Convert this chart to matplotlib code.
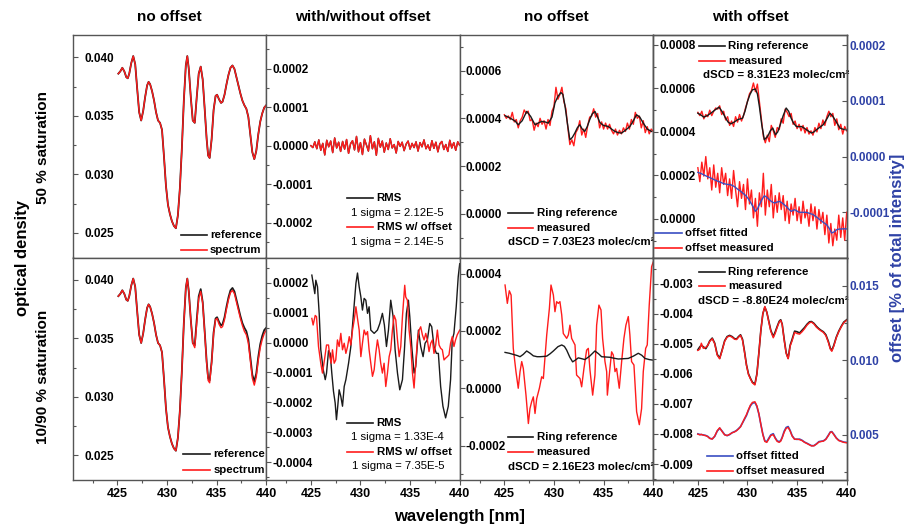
import numpy as np
import matplotlib
matplotlib.use('Agg')
import matplotlib.pyplot as plt
from matplotlib.ticker import MultipleLocator, FuncFormatter

plt.rcParams['font.family'] = ['Liberation Sans', 'DejaVu Sans']
plt.rcParams['font.weight'] = 'bold'

# ---------------- DATA ----------------
col_titles = ['no offset', 'with/without offset', 'no offset', 'with offset']
row_titles = ['50 % saturation', '10/90 % saturation']

wl_grid = [425.0, 425.2, 425.4, 425.6, 425.8, 426.0, 426.2, 426.4, 426.6, 426.8,
           427.0, 427.2, 427.4, 427.6, 427.8, 428.0, 428.2, 428.4, 428.6, 428.8,
           429.0, 429.2, 429.4, 429.6, 429.8, 430.0, 430.2, 430.4, 430.6, 430.8,
           431.0, 431.2, 431.4, 431.6, 431.8, 432.0, 432.2, 432.4, 432.6, 432.8,
           433.0, 433.2, 433.4, 433.6, 433.8, 434.0, 434.2, 434.4, 434.6, 434.8,
           435.0, 435.2, 435.4, 435.6, 435.8, 436.0, 436.2, 436.4, 436.6, 436.8,
           437.0, 437.2, 437.4, 437.6, 437.8, 438.0, 438.2, 438.4, 438.6, 438.8,
           439.0, 439.2, 439.4, 439.6, 439.8, 440.0]

# column 1: optical density (x1e-3)
wl_od = [425.1, 425.3, 425.5, 425.7, 425.9, 426.05, 426.2, 426.4, 426.6, 426.8,
         427.0, 427.2, 427.4, 427.6, 427.8, 428.0, 428.15, 428.3, 428.5, 428.7,
         428.9, 429.1, 429.3, 429.5, 429.7, 429.9, 430.1, 430.3, 430.5, 430.7,
         430.9, 431.1, 431.3, 431.5, 431.7, 431.9, 432.05, 432.2, 432.4, 432.6,
         432.8, 433.0, 433.2, 433.4, 433.6, 433.8, 434.0, 434.15, 434.3, 434.5,
         434.7, 434.9, 435.05, 435.25, 435.45, 435.6, 435.8, 436.0, 436.2, 436.4,
         436.6, 436.8, 437.0, 437.2, 437.4, 437.6, 437.8, 438.0, 438.2, 438.4,
         438.6, 438.8, 439.0, 439.2, 439.4, 439.6, 439.8, 440.0]
od_reference_e3 = [38.6, 38.8, 39.1, 38.8, 38.3, 38.2, 38.6, 39.5, 40.1, 39.4,
                   37.3, 35.3, 34.6, 35.4, 36.6, 37.6, 37.9, 37.7, 37.1, 36.3,
                   35.3, 34.6, 34.4, 33.8, 31.5, 29.0, 27.4, 26.6, 26.0, 25.6,
                   25.4, 26.5, 28.8, 32.2, 36.3, 39.3, 40.1, 39.0, 36.6, 34.6,
                   34.4, 36.6, 38.6, 39.2, 38.1, 35.6, 33.0, 31.6, 31.4, 33.0,
                   35.5, 36.7, 36.8, 36.4, 36.1, 36.2, 36.8, 37.7, 38.5, 39.1,
                   39.3, 39.0, 38.3, 37.6, 36.9, 36.3, 35.9, 35.6, 34.9, 33.4,
                   31.9, 31.3, 32.0, 33.4, 34.5, 35.2, 35.7, 35.9]
od_spectrum_top_e3 = od_reference_e3
od_spectrum_bottom_e3 = [38.6, 38.8, 39.1, 38.8, 38.3, 38.2, 38.6, 39.5, 40.1, 39.4,
                         37.3, 35.3, 34.6, 35.4, 36.6, 37.6, 37.9, 37.7, 37.1, 36.3,
                         35.3, 34.6, 34.4, 33.8, 31.5, 29.0, 27.4, 26.6, 26.0, 25.6,
                         25.4, 26.5, 28.8, 32.2, 36.3, 39.3, 40.1, 39.0, 36.6, 34.6,
                         34.2, 36.3, 38.4, 39.0, 38.0, 35.5, 32.9, 31.4, 31.2, 32.9,
                         35.4, 36.6, 36.7, 36.2, 35.9, 36.0, 36.6, 37.5, 38.3, 38.9,
                         39.1, 38.8, 38.1, 37.4, 36.7, 36.1, 35.6, 35.3, 34.6, 33.1,
                         31.6, 31.0, 31.7, 33.1, 34.2, 34.9, 35.4, 35.7]

# column 2 top: residuals (x1e-5)
rms_top_e5 = [0.0, -0.5, 1.0, -0.8, 1.5, -1.2, 0.6, -2.4, 1.4, -0.3,
              1.2, -1.8, 2.0, -0.6, 0.9, -1.5, 1.1, -0.9, 1.6, -2.0,
              0.5, 1.3, -1.1, 2.4, -1.6, 0.8, -2.3, 1.7, 0.2, -1.4,
              2.6, -0.8, 1.0, -2.5, 1.9, -0.4, 1.2, -1.7, 0.7, -1.0,
              1.8, -0.6, 0.3, -1.9, 1.1, -0.2, 0.9, -1.3, 0.4, 1.2,
              -0.9, 0.6, -0.5, 1.0, -1.4, 0.8, -0.3, 1.5, -0.8, 0.2,
              -1.2, 1.3, -0.7, 0.9, -1.6, 0.5, 1.1, -1.0, 0.3, -1.5,
              1.4, -0.6, 0.8, -1.2, 1.0, 0.1]
rms_offset_top_e5 = rms_top_e5

# column 2 bottom: residuals (x1e-4)
wl_rms_bottom = [425.1, 425.4, 425.5, 425.67, 425.84, 426.0, 426.25, 426.45, 426.58, 426.78,
                 426.95, 427.11, 427.28, 427.45, 427.58, 427.71, 427.85, 428.02, 428.19, 428.36,
                 428.53, 428.8, 429.03, 429.27, 429.54, 429.7, 429.87, 430.04, 430.2, 430.37,
                 430.54, 430.71, 430.87, 431.04, 431.38, 431.71, 431.95, 432.21, 432.41, 432.62,
                 432.82, 433.05, 433.29, 433.49, 433.73, 433.96, 434.23, 434.43, 434.63, 434.83,
                 434.97, 435.17, 435.4, 435.57, 435.84, 436.07, 436.31, 436.51, 436.74, 436.98,
                 437.18, 437.41, 437.65, 437.85, 438.08, 438.31, 438.58, 438.85, 439.08, 439.25,
                 439.42, 439.65, 439.85, 440.0]
rms_bottom_e4 = [2.26, 1.64, 2.09, 1.87, 0.98, -0.24, -0.91, -1.24, -1.02, -0.27,
                 -0.36, -1.02, -1.63, -2.02, -2.58, -2.13, -1.58, -1.80, -2.13, -1.47,
                 -1.24, -0.69, -0.13, 0.87, 1.98, 2.33, 1.87, 1.53, 1.09, 1.48,
                 1.42, 0.98, 1.20, 0.42, 0.31, 0.42, 0.64, 0.98, 0.59, -0.13,
                 0.42, 1.42, 0.87, -0.24, -1.02, -1.58, -1.24, -0.24, 0.98, 1.42,
                 0.87, -0.13, -1.02, -0.80, 0.42, -0.13, -0.47, -0.02, 0.09, 0.64,
                 0.53, -0.13, -0.36, -0.36, -1.47, -2.13, -2.52, -2.13, -1.24, 0.09,
                 0.31, 1.20, 2.20, 2.64]
wl_rms_offset_bottom = [425.1, 425.23, 425.44, 425.57, 425.77, 426.0, 426.17, 426.37, 426.58, 426.78,
                        426.91, 427.05, 427.18, 427.35, 427.51, 427.68, 427.85, 428.02, 428.19, 428.36,
                        428.53, 428.7, 428.87, 429.03, 429.2, 429.37, 429.54, 429.7, 429.87, 430.04,
                        430.2, 430.37, 430.54, 430.71, 430.87, 431.04, 431.21, 431.38, 431.54, 431.71,
                        431.88, 432.04, 432.21, 432.38, 432.55, 432.72, 432.89, 433.05, 433.22, 433.39,
                        433.56, 433.73, 433.9, 434.06, 434.23, 434.46, 434.56, 434.73, 434.9, 435.07,
                        435.24, 435.4, 435.57, 435.74, 435.91, 436.07, 436.24, 436.41, 436.58, 436.74,
                        436.91, 437.08, 437.25, 437.41, 437.58, 437.75, 437.92, 438.08, 438.25, 438.42,
                        438.58, 438.75, 438.92, 439.08, 439.25, 439.42, 439.58, 439.75, 440.0]
rms_offset_bottom_e4 = [0.81, 0.59, 0.91, 0.87, -0.13, -0.69, -1.02, -0.58, -0.08, -0.08,
                        -0.47, -0.69, -0.24, -0.69, -0.58, 0.09, -0.13, 0.31, -0.24, -0.02,
                        -0.36, -0.13, 0.20, -0.08, 0.42, 0.76, 1.20, 0.81, 0.42, -0.47,
                        -0.02, 0.42, 0.26, 0.37, -0.24, -0.69, -1.13, -0.91, -0.36, 0.09,
                        -0.24, -0.69, -1.02, -0.69, -1.47, -1.02, -0.47, -0.24, 0.42, 0.91,
                        0.76, 0.09, -0.47, -0.13, 0.87, 1.92, 1.53, 1.42, 0.42, -0.13,
                        -1.02, -1.52, -0.69, 0.09, 0.42, 0.53, 0.26, 0.09, 0.31, 0.09,
                        -0.30, -0.02, 0.09, -0.36, -0.08, 0.42, -0.08, -0.19, -0.24, -0.58,
                        -0.52, -0.47, -0.41, -0.02, 0.20, -0.13, 0.09, 0.26, 0.42]

# column 3 top: Ring (x1e-4)
wl_ring3_top = [425.07, 425.4, 425.74, 426.1, 426.4, 426.8, 427.25, 427.65, 428.09, 428.4,
                428.76, 429.1, 429.43, 429.8, 430.1, 430.4, 430.7, 430.9, 431.1, 431.35,
                431.6, 431.85, 432.1, 432.35, 432.6, 432.85, 433.1, 433.35, 433.6, 433.85,
                434.13, 434.4, 434.63, 435.0, 435.47, 435.8, 436.14, 436.5, 436.8, 437.2,
                437.65, 438.0, 438.32, 438.65, 439.0, 439.4, 439.83]
ring3_top_e4 = [4.11, 4.05, 3.97, 3.88, 3.73, 3.90, 4.29, 4.08, 3.73, 3.80,
                3.87, 3.85, 3.80, 4.05, 4.65, 4.92, 5.08, 5.00, 4.55, 3.80,
                3.10, 3.20, 3.38, 3.60, 3.73, 3.55, 3.45, 3.65, 3.94, 4.18,
                4.29, 4.05, 3.82, 3.70, 3.66, 3.55, 3.45, 3.40, 3.38, 3.50,
                3.66, 3.90, 4.15, 4.05, 3.80, 3.55, 3.45]
measured3_top_e4 = [4.15, 4.00, 4.10, 3.95, 4.25, 3.85, 3.95, 3.60, 3.90, 4.05,
                    4.35, 4.20, 4.30, 3.90, 3.95, 3.50, 3.80, 3.65, 4.00, 3.75,
                    3.90, 3.55, 3.95, 3.70, 4.30, 4.50, 5.30, 4.80, 5.00, 5.30,
                    4.70, 4.40, 3.60, 2.90, 3.10, 2.85, 3.40, 3.55, 3.90, 3.30,
                    3.55, 3.20, 3.70, 4.05, 4.10, 4.40, 4.05, 4.20, 3.60, 3.85,
                    3.55, 3.80, 3.55, 3.75, 3.50, 3.35, 3.55, 3.30, 3.50, 3.35,
                    3.60, 3.45, 3.80, 3.55, 3.95, 3.75, 4.25, 4.00, 4.10, 3.60,
                    3.90, 3.40, 3.65, 3.35, 3.55, 3.45]

# column 3 bottom (x1e-4)
wl_ring3_bottom = [425.07, 425.5, 425.9, 426.3, 426.58, 426.9, 427.25, 427.6, 427.92, 428.3,
                   428.6, 429.0, 429.27, 429.6, 429.94, 430.4, 430.78, 431.05, 431.28, 431.6,
                   431.88, 432.15, 432.45, 432.8, 433.12, 433.6, 434.13, 434.5, 434.8, 435.2,
                   435.64, 436.0, 436.48, 437.0, 437.49, 438.0, 438.5, 438.85, 439.17, 439.6,
                   440.0]
ring3_bottom_e4 = [1.25, 1.22, 1.18, 1.14, 1.10, 1.18, 1.30, 1.22, 1.13, 1.10,
                   1.10, 1.11, 1.12, 1.20, 1.30, 1.45, 1.51, 1.46, 1.33, 1.08,
                   0.92, 0.98, 1.06, 1.03, 1.00, 1.12, 1.30, 1.20, 1.10, 1.09,
                   1.08, 1.05, 1.02, 1.03, 1.04, 1.12, 1.22, 1.15, 1.04, 1.00,
                   0.98]
wl_meas3_bottom = [425.07, 425.3, 425.5, 425.68, 425.9, 426.17, 426.4, 426.58, 426.75, 426.91,
                   427.18, 427.42, 427.58, 427.75, 427.92, 428.09, 428.26, 428.53, 428.76, 428.93,
                   429.27, 429.54, 429.7, 429.94, 430.1, 430.27, 430.44, 430.6, 430.78, 430.94,
                   431.28, 431.45, 431.61, 431.78, 432.12, 432.28, 432.62, 432.79, 433.02, 433.29,
                   433.46, 433.63, 433.9, 434.13, 434.3, 434.53, 434.74, 434.9, 435.14, 435.31,
                   435.38, 435.64, 435.81, 435.98, 436.15, 436.31, 436.58, 436.82, 437.05, 437.25,
                   437.49, 437.65, 437.82, 438.06, 438.33, 438.6, 438.83, 439.0, 439.24, 439.4,
                   439.6, 439.84, 440.0]
meas3_bottom_e4 = [3.60, 2.96, 3.40, 3.25, 1.39, 0.58, 0.0, 0.58, 0.93, 0.69,
                   -0.24, -1.23, -0.71, -0.47, -0.30, -0.88, -0.36, 0.0, 0.40, 0.34,
                   1.86, 2.79, 3.60, 3.25, 2.67, 3.02, 2.96, 3.02, 2.56, 1.91,
                   1.74, 1.86, 2.20, 1.74, 1.51, 0.46, 0.34, 0.05, 0.69, 1.33,
                   1.39, 0.63, -0.24, 0.46, 2.20, 2.90, 2.73, 1.74, 0.93, 0.58,
                   -0.24, 0.69, 1.27, 1.16, 0.58, 0.69, 0.0, 0.93, 1.74, 2.20,
                   2.50, 1.86, 0.93, 0.81, -0.82, -1.27, -0.71, 0.58, 1.39, 1.51,
                   2.90, 4.24, 4.40]

# column 4 top: Ring (left, x1e-4) and offset (right, x1e-5)
wl_ring4_top = [425.0, 425.3, 425.6, 425.95, 426.3, 426.7, 427.13, 427.5, 427.8, 428.05,
                428.32, 428.65, 429.0, 429.25, 429.5, 429.75, 430.0, 430.25, 430.5, 430.8,
                431.0, 431.2, 431.45, 431.7, 432.04, 432.3, 432.55, 432.82, 433.05, 433.3,
                433.6, 433.9, 434.15, 434.4, 434.65, 434.92, 435.2, 435.43, 435.7, 435.94,
                436.2, 436.45, 436.7, 436.95, 437.3, 437.63, 438.0, 438.31, 438.55, 438.82,
                439.05, 439.32, 439.65, 440.0]
ring4_top_e4 = [4.86, 4.78, 4.68, 4.75, 4.86, 5.00, 5.14, 4.90, 4.63, 4.45,
                4.37, 4.45, 4.56, 4.60, 4.63, 4.95, 5.40, 5.72, 5.94, 5.97,
                5.75, 5.17, 4.30, 3.64, 3.80, 4.05, 4.18, 3.87, 4.00, 4.33,
                4.75, 5.10, 4.95, 4.63, 4.40, 4.25, 4.24, 4.25, 4.18, 4.10,
                4.02, 3.95, 4.00, 4.10, 4.22, 4.33, 4.60, 4.86, 4.75, 4.56,
                4.38, 4.18, 4.12, 4.10]
measured4_top_e4 = [4.90, 4.75, 4.95, 4.60, 4.80, 4.70, 5.00, 4.75, 4.95, 5.10,
                    5.05, 5.20, 4.80, 4.95, 4.55, 4.70, 4.30, 4.50, 4.25, 4.70,
                    4.45, 4.80, 4.50, 4.75, 5.10, 5.40, 5.75, 5.90, 6.25, 5.85,
                    6.20, 5.40, 4.60, 3.80, 3.50, 3.85, 3.55, 4.30, 4.05, 3.75,
                    4.20, 4.10, 4.60, 4.40, 5.05, 4.90, 4.70, 4.85, 4.35, 4.50,
                    4.15, 4.35, 4.05, 4.30, 3.95, 4.20, 3.90, 4.05, 3.85, 4.20,
                    4.00, 4.40, 4.15, 4.55, 4.30, 4.70, 4.95, 4.70, 4.85, 4.30,
                    4.60, 4.10, 4.35, 3.90, 4.25, 4.05]
wl_offset4_top = [425.0, 425.4, 425.78, 426.3, 426.8, 427.2, 427.64, 428.0, 428.32, 428.7,
                  429.0, 429.4, 429.84, 430.1, 430.35, 430.6, 430.79, 431.0, 431.2, 431.45,
                  431.7, 431.95, 432.2, 432.45, 432.72, 433.0, 433.23, 433.55, 433.9, 434.15,
                  434.41, 434.75, 435.0, 435.26, 435.6, 435.94, 436.3, 436.62, 437.0, 437.29,
                  437.6, 437.97, 438.25, 438.48, 438.75, 438.99, 439.25, 439.5, 439.75, 440.0]
offset_fit4_top_e5 = [-2.84, -3.10, -3.44, -3.85, -4.27, -4.55, -4.87, -5.00, -5.05, -5.40,
                      -5.83, -6.35, -7.02, -7.60, -8.33, -9.10, -9.82, -9.40, -8.63, -7.70,
                      -7.02, -7.30, -7.73, -8.10, -8.33, -8.15, -8.03, -8.40, -8.93, -9.40,
                      -9.82, -9.52, -9.80, -10.0, -10.0, -10.0, -10.2, -10.42, -10.9, -11.31,
                      -11.75, -12.21, -12.90, -13.70, -13.50, -13.10, -13.00, -12.98, -12.95, -12.98]
offset_meas4_top_e5 = [-2.0, -4.5, -1.0, -3.5, 0.0, -4.0, -2.0, -6.0, -1.5, -5.5,
                       -3.0, -6.5, -2.0, -5.0, -3.0, -7.0, -4.0, -7.5, -2.5, -6.0,
                       -9.0, -4.5, -7.5, -5.0, -9.5, -4.0, -8.5, -6.0, -11.0, -7.5,
                       -12.5, -6.5, -9.0, -3.0, -10.5, -6.0, -9.0, -5.0, -11.0, -7.0,
                       -10.0, -6.5, -9.5, -7.0, -11.5, -8.0, -12.0, -8.5, -10.5, -7.5,
                       -11.5, -9.0, -12.0, -8.0, -11.0, -9.5, -12.5, -8.5, -11.5, -9.0,
                       -13.0, -9.5, -12.0, -10.0, -14.0, -10.5, -15.5, -12.0, -16.0, -13.0,
                       -15.0, -10.5, -14.5, -11.0, -15.0, -10.0]

# column 4 bottom (left x1e-3, right x1e-3)
wl_c4_bottom = [425.0, 425.2, 425.35, 425.55, 425.8, 426.0, 426.2, 426.45, 426.7, 426.95,
                427.2, 427.45, 427.7, 427.95, 428.2, 428.45, 428.7, 428.9, 429.1, 429.3,
                429.5, 429.7, 429.9, 430.1, 430.3, 430.5, 430.75, 430.95, 431.15, 431.35,
                431.55, 431.75, 431.95, 432.15, 432.35, 432.6, 432.8, 433.0, 433.2, 433.35,
                433.5, 433.7, 433.9, 434.1, 434.3, 434.5, 434.75, 435.0, 435.25, 435.5,
                435.75, 436.0, 436.25, 436.45, 436.7, 436.95, 437.2, 437.45, 437.65, 437.9,
                438.15, 438.35, 438.5, 438.7, 438.95, 439.2, 439.45, 439.7, 440.0]
ring4_bottom_e3 = [-5.20, -5.10, -5.05, -5.10, -5.16, -5.05, -4.90, -4.81, -4.98, -5.35,
                   -5.48, -5.20, -4.90, -4.76, -4.72, -4.76, -4.83, -4.84, -4.76, -4.70,
                   -4.85, -5.25, -5.70, -6.00, -6.15, -6.28, -6.34, -6.00, -5.30, -4.55,
                   -4.00, -3.78, -3.95, -4.25, -4.55, -4.76, -4.60, -4.42, -4.25, -4.20,
                   -4.35, -4.85, -5.30, -5.48, -5.05, -4.85, -4.58, -4.60, -4.64, -4.55,
                   -4.46, -4.35, -4.27, -4.26, -4.32, -4.42, -4.50, -4.56, -4.60, -4.70,
                   -4.92, -5.15, -5.22, -5.05, -4.78, -4.58, -4.42, -4.28, -4.20]
measured4_bottom_e3 = [-5.22, -5.18, -4.98, -5.15, -5.12, -5.05, -4.92, -4.83, -5.00, -5.38,
                       -5.50, -5.22, -4.92, -4.78, -4.74, -4.78, -4.85, -4.86, -4.78, -4.72,
                       -4.88, -5.28, -5.72, -6.02, -6.17, -6.30, -6.37, -6.02, -5.30, -4.55,
                       -4.00, -3.76, -3.95, -4.28, -4.58, -4.80, -4.65, -4.45, -4.28, -4.22,
                       -4.36, -4.88, -5.32, -5.50, -5.08, -4.90, -4.62, -4.66, -4.68, -4.60,
                       -4.50, -4.38, -4.30, -4.28, -4.34, -4.45, -4.52, -4.58, -4.62, -4.73,
                       -4.95, -5.18, -5.25, -5.08, -4.80, -4.60, -4.44, -4.30, -4.22]
offset_fit4_bottom_e3 = [5.07, 5.03, 5.02, 5.00, 4.96, 4.90, 4.78, 4.73, 4.90, 5.25,
                         5.45, 5.25, 5.02, 4.95, 5.02, 5.15, 5.22, 5.30, 5.42, 5.56,
                         5.80, 6.05, 6.30, 6.65, 6.95, 7.12, 7.17, 6.90, 6.40, 5.70,
                         5.05, 4.60, 4.55, 4.78, 5.00, 5.08, 4.80, 4.60, 4.55, 4.62,
                         4.85, 5.25, 5.50, 5.56, 5.30, 4.95, 4.72, 4.70, 4.72, 4.64,
                         4.52, 4.44, 4.35, 4.28, 4.28, 4.40, 4.55, 4.58, 4.60, 4.72,
                         4.98, 5.20, 5.22, 5.05, 4.80, 4.64, 4.58, 4.52, 4.50]
offset_meas4_bottom_e3 = [5.05, 5.00, 5.04, 4.98, 4.95, 4.88, 4.76, 4.72, 4.92, 5.28,
                          5.48, 5.22, 5.00, 4.96, 5.04, 5.14, 5.20, 5.28, 5.40, 5.54,
                          5.82, 6.10, 6.36, 6.70, 7.00, 7.18, 7.22, 6.95, 6.42, 5.70,
                          5.02, 4.56, 4.50, 4.72, 4.95, 5.02, 4.76, 4.56, 4.50, 4.58,
                          4.80, 5.18, 5.44, 5.50, 5.26, 4.92, 4.70, 4.72, 4.68, 4.62,
                          4.50, 4.42, 4.33, 4.26, 4.27, 4.38, 4.52, 4.56, 4.58, 4.70,
                          4.95, 5.18, 5.20, 5.02, 4.78, 4.62, 4.56, 4.50, 4.47]

sigma_texts = [['1 sigma = 2.12E-5', '1 sigma = 2.14E-5'],
               ['1 sigma = 1.33E-4', '1 sigma = 7.35E-5']]
dscd_texts = ['dSCD = 7.03E23 molec/cm\u00b2', 'dSCD = 2.16E23 molec/cm\u00b2',
              'dSCD = 8.31E23 molec/cm\u00b2', 'dSCD = -8.80E24 molec/cm\u00b2']

# ---------------- STYLE ----------------
RED = '#ff1c1c'
BLACK = '#1a1a1a'
BLUE = '#3a4ec2'
LBLUE = '#2f42a6'
AXC = '#555555'
LW = 1.0
LEG_FS = 8.2

W, H = 913.0, 525.0
col_left = [72.7, 266.2, 459.7, 653.2]
col_w = 193.5
row_top = [35.0, 257.5]
row_h = 222.5

fig = plt.figure(figsize=(W / 100, H / 100), dpi=100)


def make_ax(r, c):
    return fig.add_axes([col_left[c] / W, 1 - (row_top[r] + row_h) / H, col_w / W, row_h / H])


def fmt_factory(nd):
    def f(v, p):
        if abs(v) < 1e-12:
            v = 0.0
        return f'{v:.{nd}f}'
    return FuncFormatter(f)


def style(ax, ylim, major, minor, nd, pad, bottom_labels):
    ax.set_xlim(420.5, 440)
    ax.set_ylim(*ylim)
    ax.xaxis.set_major_locator(MultipleLocator(5))
    ax.xaxis.set_minor_locator(MultipleLocator(2.5))
    ax.yaxis.set_major_locator(MultipleLocator(major))
    ax.yaxis.set_minor_locator(MultipleLocator(minor))
    ax.yaxis.set_major_formatter(fmt_factory(nd))
    ax.tick_params(axis='x', which='major', direction='out', length=3.5, width=0.8,
                   color=AXC, labelsize=9, labelbottom=bottom_labels, pad=2)
    ax.tick_params(axis='x', which='minor', direction='out', length=2.2, width=0.8, color=AXC)
    ax.tick_params(axis='y', which='major', direction='in', length=3.5, width=0.8,
                   color=AXC, labelsize=8.5, pad=pad)
    ax.tick_params(axis='y', which='minor', direction='in', length=2.2, width=0.8, color=AXC)
    for t in ax.yaxis.get_major_ticks():
        t.label1.set_horizontalalignment('left')
    for s in ax.spines.values():
        s.set_color(AXC)
        s.set_linewidth(1.0)


def style_right(ax2, ylim, major, minor, nd):
    ax2.set_ylim(*ylim)
    ax2.yaxis.set_major_locator(MultipleLocator(major))
    ax2.yaxis.set_minor_locator(MultipleLocator(minor))
    ax2.yaxis.set_major_formatter(fmt_factory(nd))
    ax2.tick_params(axis='y', which='major', direction='in', length=3.5, width=0.8,
                    color=AXC, labelsize=8.5, labelcolor=LBLUE, pad=2)
    ax2.tick_params(axis='y', which='minor', direction='in', length=2.2, width=0.8, color=AXC)
    for s in ax2.spines.values():
        s.set_color(AXC)
        s.set_linewidth(1.0)


def entry(ax, x0, x1, y, color, label, fs=LEG_FS):
    ax.plot([x0, x1], [y, y], transform=ax.transAxes, color=color, lw=1.2, clip_on=False)
    ax.text(x1 + 0.018, y, label, transform=ax.transAxes, ha='left', va='center',
            fontsize=fs, fontweight='bold')


def plain(ax, x, y, s, ha='center', fs=LEG_FS, weight='normal'):
    ax.text(x, y, s, transform=ax.transAxes, ha=ha, va='center', fontsize=fs, fontweight=weight)


e3 = lambda a: np.array(a) * 1e-3
e4 = lambda a: np.array(a) * 1e-4
e5 = lambda a: np.array(a) * 1e-5

# ---- column 1 ----
for r, spec in enumerate([od_spectrum_top_e3, od_spectrum_bottom_e3]):
    ax = make_ax(r, 0)
    ax.plot(wl_od, e3(od_reference_e3), color=BLACK, lw=LW + 0.3)
    ax.plot(wl_od, e3(spec), color=RED, lw=LW)
    style(ax, (0.0229, 0.0419), 0.005, 0.0025, 3, -8.5, r == 1)
    if r == 0:
        entry(ax, 0.558, 0.692, 0.101, BLACK, 'reference')
        entry(ax, 0.558, 0.692, 0.034, RED, 'spectrum')
    else:
        entry(ax, 0.572, 0.709, 0.117, BLACK, 'reference')
        entry(ax, 0.572, 0.709, 0.045, RED, 'spectrum')

# ---- column 2 ----
ax = make_ax(0, 1)
ax.plot(wl_grid, e5(rms_top_e5), color=BLACK, lw=LW)
ax.plot(wl_grid, e5(rms_offset_top_e5), color=RED, lw=LW)
style(ax, (-0.00029, 0.000287), 0.0001, 0.00005, 4, -4.2, False)
entry(ax, 0.419, 0.553, 0.269, BLACK, 'RMS')
plain(ax, 0.680, 0.201, sigma_texts[0][0])
entry(ax, 0.419, 0.553, 0.135, RED, 'RMS w/ offset')
plain(ax, 0.680, 0.071, sigma_texts[0][1])

ax = make_ax(1, 1)
ax.plot(wl_rms_bottom, e4(rms_bottom_e4), color=BLACK, lw=LW)
ax.plot(wl_rms_offset_bottom, e4(rms_offset_bottom_e4), color=RED, lw=LW)
style(ax, (-0.00046, 0.000285), 0.0001, 0.00005, 4, -4.2, True)
entry(ax, 0.419, 0.553, 0.2576, BLACK, 'RMS')
plain(ax, 0.680, 0.192, sigma_texts[1][0])
entry(ax, 0.419, 0.553, 0.127, RED, 'RMS w/ offset')
plain(ax, 0.680, 0.063, sigma_texts[1][1])

# ---- column 3 ----
ax = make_ax(0, 2)
ax.plot(wl_grid, e4(measured3_top_e4), color=RED, lw=LW)
ax.plot(wl_ring3_top, e4(ring3_top_e4), color=BLACK, lw=LW)
style(ax, (-0.000183, 0.000749), 0.0002, 0.0001, 4, -4.2, False)
entry(ax, 0.248, 0.380, 0.199, BLACK, 'Ring reference')
entry(ax, 0.248, 0.380, 0.131, RED, 'measured')
plain(ax, 0.248, 0.071, dscd_texts[0], ha='left', weight='bold')

ax = make_ax(1, 2)
ax.plot(wl_meas3_bottom, e4(meas3_bottom_e4), color=RED, lw=LW)
ax.plot(wl_ring3_bottom, e4(ring3_bottom_e4), color=BLACK, lw=LW)
style(ax, (-0.00032, 0.000456), 0.0002, 0.0001, 4, -4.2, True)
entry(ax, 0.248, 0.380, 0.192, BLACK, 'Ring reference')
entry(ax, 0.248, 0.380, 0.1245, RED, 'measured')
plain(ax, 0.248, 0.060, dscd_texts[1], ha='left', weight='bold')

# ---- column 4 ----
ax = make_ax(0, 3)
ax.plot(wl_grid, e4(measured4_top_e4), color=RED, lw=LW)
ax.plot(wl_ring4_top, e4(ring4_top_e4), color=BLACK, lw=LW)
style(ax, (-0.000178, 0.000846), 0.0002, 0.0001, 4, -4.2, False)
ax2 = ax.twinx()
ax2.plot(wl_grid, e5(offset_meas4_top_e5), color=RED, lw=LW)
ax2.plot(wl_offset4_top, e5(offset_fit4_top_e5), color=BLUE, lw=LW)
ax2.set_xlim(420.5, 440)
style_right(ax2, (-0.000181, 0.000218), 0.0001, 0.00005, 4)
entry(ax, 0.238, 0.371, 0.952, BLACK, 'Ring reference')
entry(ax, 0.238, 0.371, 0.883, RED, 'measured')
plain(ax, 0.256, 0.819, dscd_texts[2], ha='left', weight='bold')
entry(ax, 0.009, 0.147, 0.109, BLUE, 'offset fitted')
entry(ax, 0.009, 0.147, 0.041, RED, 'offset measured')

ax = make_ax(1, 3)
ax.plot(wl_c4_bottom, e3(ring4_bottom_e3), color=BLACK, lw=LW + 0.2)
ax.plot(wl_c4_bottom, e3(measured4_bottom_e3), color=RED, lw=LW)
style(ax, (-0.00953, -0.00213), 0.001, 0.0005, 3, -4.2, True)
ax2 = ax.twinx()
ax2.plot(wl_c4_bottom, e3(offset_fit4_bottom_e3), color=BLUE, lw=LW + 0.2)
ax2.plot(wl_c4_bottom, e3(offset_meas4_bottom_e3), color=RED, lw=LW)
ax2.set_xlim(420.5, 440)
style_right(ax2, (0.00198, 0.01688), 0.005, 0.0025, 3)
entry(ax, 0.238, 0.371, 0.936, BLACK, 'Ring reference')
entry(ax, 0.238, 0.371, 0.872, RED, 'measured')
plain(ax, 0.230, 0.806, dscd_texts[3], ha='left', weight='bold')
entry(ax, 0.276, 0.411, 0.108, BLUE, 'offset fitted')
entry(ax, 0.276, 0.411, 0.040, RED, 'offset measured')

# ---- figure texts ----
for c, t in enumerate(col_titles):
    fig.text((col_left[c] + col_w / 2) / W, 1 - 17 / H, t, ha='center', va='center', fontsize=11)
fig.text(22 / W, 1 - 258 / H, 'optical density', rotation=90, ha='center', va='center', fontsize=12)
fig.text(43 / W, 1 - 147 / H, row_titles[0], rotation=90, ha='center', va='center', fontsize=11)
fig.text(43 / W, 1 - 377 / H, row_titles[1], rotation=90, ha='center', va='center', fontsize=11)
fig.text(459 / W, 1 - 517 / H, 'wavelength [nm]', ha='center', va='center', fontsize=12)
fig.text(897 / W, 1 - 258 / H, 'offset [% of total intensity]', rotation=90, ha='center',
         va='center', fontsize=12, color=LBLUE)

fig.savefig('out.png', dpi=100)
